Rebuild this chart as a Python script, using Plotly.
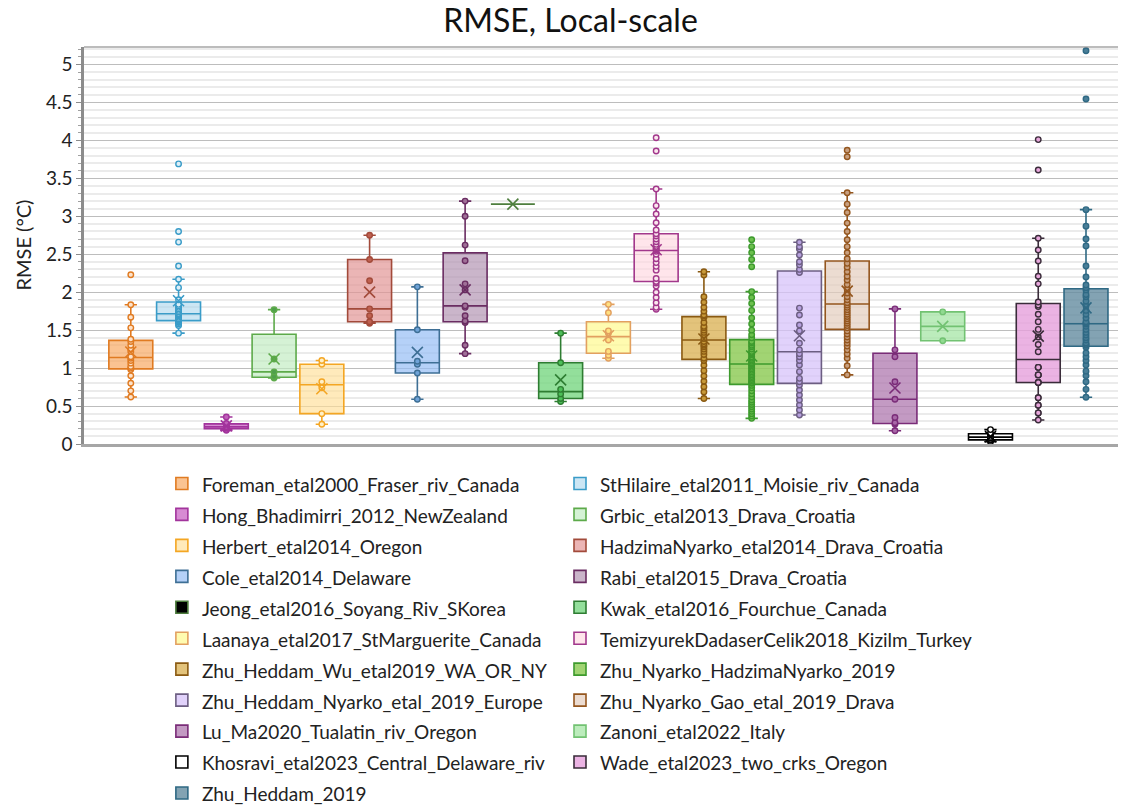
import numpy as np
import plotly.graph_objects as go

# ---------------- data ----------------
names = [
    "Foreman_etal2000_Fraser_riv_Canada", "StHilaire_etal2011_Moisie_riv_Canada",
    "Hong_Bhadimirri_2012_NewZealand", "Grbic_etal2013_Drava_Croatia",
    "Herbert_etal2014_Oregon", "HadzimaNyarko_etal2014_Drava_Croatia",
    "Cole_etal2014_Delaware", "Rabi_etal2015_Drava_Croatia",
    "Jeong_etal2016_Soyang_Riv_SKorea", "Kwak_etal2016_Fourchue_Canada",
    "Laanaya_etal2017_StMarguerite_Canada", "TemizyurekDadaserCelik2018_Kizilm_Turkey",
    "Zhu_Heddam_Wu_etal2019_WA_OR_NY", "Zhu_Nyarko_HadzimaNyarko_2019",
    "Zhu_Heddam_Nyarko_etal_2019_Europe", "Zhu_Nyarko_Gao_etal_2019_Drava",
    "Lu_Ma2020_Tualatin_riv_Oregon", "Zanoni_etal2022_Italy",
    "Khosravi_etal2023_Central_Delaware_riv", "Wade_etal2023_two_crks_Oregon",
    "Zhu_Heddam_2019",
]
y_title = "RMSE (°C)"
chart_title = "RMSE, Local-scale"

foreman = [2.23, 1.835, 1.67, 1.53, 1.38, 1.35, 1.30, 1.25, 1.22, 1.15,
           1.13, 1.10, 1.065, 1.02, 1.0, 0.98, 0.90, 0.80, 0.70, 0.62]
sthilaire = [3.69, 2.80, 2.66, 2.345, 2.17, 2.06, 1.90, 1.84, 1.82, 1.80, 1.78, 1.76, 1.74, 1.72,
             1.71, 1.70, 1.69, 1.67, 1.65, 1.64, 1.63, 1.62, 1.62, 1.61, 1.60, 1.58, 1.56, 1.46]
hong = [0.355, 0.27, 0.26, 0.23, 0.22, 0.21, 0.19, 0.18]
grbic = [1.77, 1.12, 0.95, 0.89, 0.87]
herbert = [1.10, 1.05, 0.82, 0.74, 0.40, 0.26]
hadzima = [2.75, 2.43, 2.15, 1.78, 1.69, 1.61, 1.59]
cole = [2.07, 1.506, 1.09, 1.05, 0.935, 0.59]
rabi = [3.20, 3.00, 2.62, 2.415, 2.11, 2.03, 1.82, 1.80, 1.69, 1.62, 1.60, 1.30, 1.19]
jeong = [3.16]
kwak = [1.46, 1.07, 0.72, 0.66, 0.60, 0.56]
laanaya = [1.84, 1.73, 1.49, 1.46, 1.37, 1.22, 1.17, 1.13]
temizyurek = [4.035, 3.86, 3.36, 3.14, 3.03, 2.915, 2.82, 2.77, 2.74, 2.70, 2.665, 2.63, 2.59, 2.57, 2.56,
              2.54, 2.50, 2.44, 2.39, 2.34, 2.29, 2.18, 2.14, 2.12, 2.08, 2.00, 1.93, 1.86, 1.80, 1.775]
zhu_heddam_wu = [2.27, 2.227, 1.94, 1.867, 1.80, 1.75, 1.70, 1.69, 1.665, 1.60, 1.55, 1.53, 1.50, 1.47, 1.44, 1.39,
                 1.35, 1.32, 1.30, 1.28, 1.25, 1.22, 1.18, 1.13, 1.10, 1.037, 0.966, 0.896, 0.826, 0.755, 0.685, 0.60]
zhu_nyarko_hadzima = [2.69, 2.60, 2.52, 2.43, 2.336, 2.007, 1.93, 1.85, 1.76, 1.66, 1.58, 1.50, 1.44, 1.40,
                      1.35, 1.33, 1.30, 1.28, 1.25, 1.22, 1.20, 1.18, 1.15, 1.13, 1.11, 1.09, 1.07, 1.06,
                      1.048, 1.03, 1.01, 0.99, 0.97, 0.95, 0.93, 0.91, 0.89, 0.87, 0.85, 0.83, 0.81, 0.80,
                      0.772, 0.74, 0.70, 0.66, 0.62, 0.58, 0.55, 0.52, 0.49, 0.46, 0.43, 0.40, 0.37, 0.338]
zhu_heddam_nyarko = [2.657, 2.60, 2.57, 2.49, 2.40, 2.36, 2.30, 2.26, 1.79, 1.70, 1.568, 1.49, 1.327, 1.24,
                     1.19, 1.15, 1.10, 1.04, 0.953, 0.865, 0.82, 0.777, 0.711, 0.645, 0.58, 0.514, 0.448, 0.382]
zhu_nyarko_gao = [3.87, 3.785, 3.31, 3.16, 3.05, 2.91, 2.80, 2.69, 2.60, 2.52, 2.44, 2.38, 2.33, 2.27, 2.21,
                  2.16, 2.10, 2.04, 1.99, 1.94, 1.90, 1.86, 1.83, 1.80, 1.77, 1.74, 1.71, 1.68, 1.65, 1.62,
                  1.59, 1.56, 1.53, 1.49, 1.45, 1.41, 1.37, 1.33, 1.29, 1.24, 1.185, 1.13, 1.03, 0.91]
lu_ma = [1.78, 1.24, 1.15, 0.82, 0.59, 0.35, 0.28, 0.26, 0.175]
zanoni = [1.74, 1.36]
khosravi = [0.19, 0.14, 0.13, 0.10, 0.08, 0.06, 0.05, 0.03]
wade = [4.01, 3.61, 2.71, 2.556, 2.41, 2.21, 2.11, 1.87, 1.83, 1.81, 1.71, 1.61, 1.51, 1.41, 1.31, 1.216,
        1.01, 1.01, 1.01, 0.91, 0.91, 0.91, 0.81, 0.81, 0.81, 0.61, 0.61, 0.51, 0.51, 0.41, 0.41, 0.316]
zhu_heddam_2019 = [5.18, 4.545, 3.087, 2.87, 2.70, 2.61, 2.345, 2.20, 2.095, 2.06, 2.03, 1.97, 1.94, 1.88,
                   1.82, 1.76, 1.71, 1.66, 1.61, 1.59, 1.58, 1.55, 1.51, 1.47, 1.436, 1.40, 1.37, 1.33,
                   1.31, 1.30, 1.275, 1.20, 1.15, 1.10, 1.04, 0.96, 0.90, 0.82, 0.72, 0.615]

series = [foreman, sthilaire, hong, grbic, herbert, hadzima, cole, rabi, jeong, kwak, laanaya,
          temizyurek, zhu_heddam_wu, zhu_nyarko_hadzima, zhu_heddam_nyarko, zhu_nyarko_gao,
          lu_ma, zanoni, khosravi, wade, zhu_heddam_2019]

# ---------------- styles ----------------
fills = [
    "rgba(248,170,100,0.70)", "rgba(170,214,236,0.60)", "rgba(205,110,200,0.80)", "rgba(190,235,190,0.65)",
    "rgba(255,222,150,0.65)", "rgba(226,150,150,0.70)", "rgba(150,190,245,0.70)", "rgba(180,150,180,0.70)",
    "rgba(0,0,0,1)", "rgba(120,215,130,0.80)", "rgba(255,250,150,0.75)", "rgba(255,215,225,0.65)",
    "rgba(220,180,90,0.80)", "rgba(145,205,90,0.85)", "rgba(215,195,250,0.75)", "rgba(228,205,190,0.70)",
    "rgba(175,120,175,0.75)", "rgba(165,230,165,0.75)", "rgba(255,255,255,1)", "rgba(230,160,220,0.80)",
    "rgba(100,140,160,0.80)",
]
lines = [
    "#E07B22", "#3A9CC8", "#A2349C", "#5DAA4A", "#F4A623", "#A24A3A", "#3E6F95", "#6A2D62",
    "#4E7E3E", "#2E7D32", "#E2A060", "#A2388C", "#8A5A12", "#3D9A2D", "#6C5E82", "#94561E",
    "#7A2C78", "#72C272", "#000000", "#3A2C3A", "#2F6984",
]
ptfill = [
    "#FCE3CC", "#DDEFF8", "#C060BA", "#4FA04A", "#FFF0C8", "#C06050", "#6FA3D8", "#A07098",
    "rgba(0,0,0,0)", "#4CBF58", "#FFE080", "#FBE7EE", "#C89A3A", "#6CC04E", "#B8A2E0", "#C8A080",
    "#A868A8", "#90DA90", "#FFFFFF", "#E8A8DC", "#4A7F98",
]
BOX_W = 0.92

fig = go.Figure()
for i, (nm, vals) in enumerate(zip(names, series)):
    single = len(vals) == 1
    fig.add_trace(go.Box(
        y=vals, x0=i, name=f"<span style='font-size:19px'>{nm}</span>",
        legend="legend" if i % 2 == 0 else "legend2",
        width=BOX_W, boxpoints="all", jitter=0, pointpos=0,
        quartilemethod="exclusive", whiskerwidth=0.28,
        fillcolor=fills[i], line=dict(color=lines[i], width=1.6),
        marker=dict(size=5.5, color=ptfill[i],
                    line=dict(color="rgba(0,0,0,0)" if single else lines[i], width=1.4)),
        hoverinfo="y",
    ))
    if single:
        # a one-value box collapses to its median line
        med = float(np.median(vals))
        fig.add_trace(go.Scatter(
            x=[i - BOX_W / 2, i + BOX_W / 2], y=[med, med], mode="lines", showlegend=False,
            line=dict(color=lines[i], width=1.6), hoverinfo="skip",
        ))
for i, vals in enumerate(series):
    fig.add_trace(go.Scatter(
        x=[i], y=[float(np.mean(vals))], mode="markers", showlegend=False,
        marker=dict(symbol="x-thin", size=11, line=dict(width=1.6, color=lines[i])),
        hoverinfo="y",
    ))

FONT = "Lato, 'Open Sans', sans-serif"
leg_common = dict(orientation="v", xref="container", yref="container", y=1 - 463 / 809,
                  xanchor="left", yanchor="top", traceorder="normal",
                  font=dict(size=21.5, family=FONT, color="#222"), bgcolor="rgba(0,0,0,0)")
fig.update_layout(
    width=1132, height=809,
    margin=dict(l=84, r=14, t=47, b=365, autoexpand=False),
    paper_bgcolor="white", plot_bgcolor="white",
    font=dict(family=FONT, color="#222"),
    title=dict(text=chart_title, x=0.504, xref="container", y=0.988, yref="container",
               xanchor="center", yanchor="top", font=dict(size=32, family=FONT, color="#111")),
    showlegend=True,
    legend=dict(x=0.143, **leg_common),
    legend2=dict(x=0.4947, **leg_common),
    xaxis=dict(type="linear", range=[-0.98, 20.67], showticklabels=False, ticks="",
               showgrid=False, zeroline=False, showline=True, linecolor="#a6a6a6", linewidth=3,
               automargin=False),
    yaxis=dict(range=[0, 5.23], dtick=0.5, tick0=0, showgrid=True, gridcolor="#bdbdbd", gridwidth=1.4,
               zeroline=False, showline=True, linecolor="#8c8c8c", linewidth=2.5, automargin=False,
               ticks="outside", ticklen=5, tickcolor="#8c8c8c", tickfont=dict(size=19, family=FONT, color="#222"),
               minor=dict(dtick=0.1, showgrid=True, gridcolor="#ebebeb", gridwidth=2,
                          ticks="outside", ticklen=3, tickcolor="#a0a0a0")),
    annotations=[dict(text=y_title, xref="paper", yref="paper", x=0, y=0.5, xshift=-62,
                      xanchor="center", yanchor="middle", textangle=-90, showarrow=False,
                      font=dict(size=20, family=FONT, color="#222"))],
    shapes=[dict(type="line", xref="paper", yref="paper", x0=0, x1=1, y0=1, y1=1,
                 line=dict(color="#7a7a7a", width=1.2))],
)

fig.write_html("out.html", config={"displayModeBar": False},
               post_script="document.body.style.margin='0';")
